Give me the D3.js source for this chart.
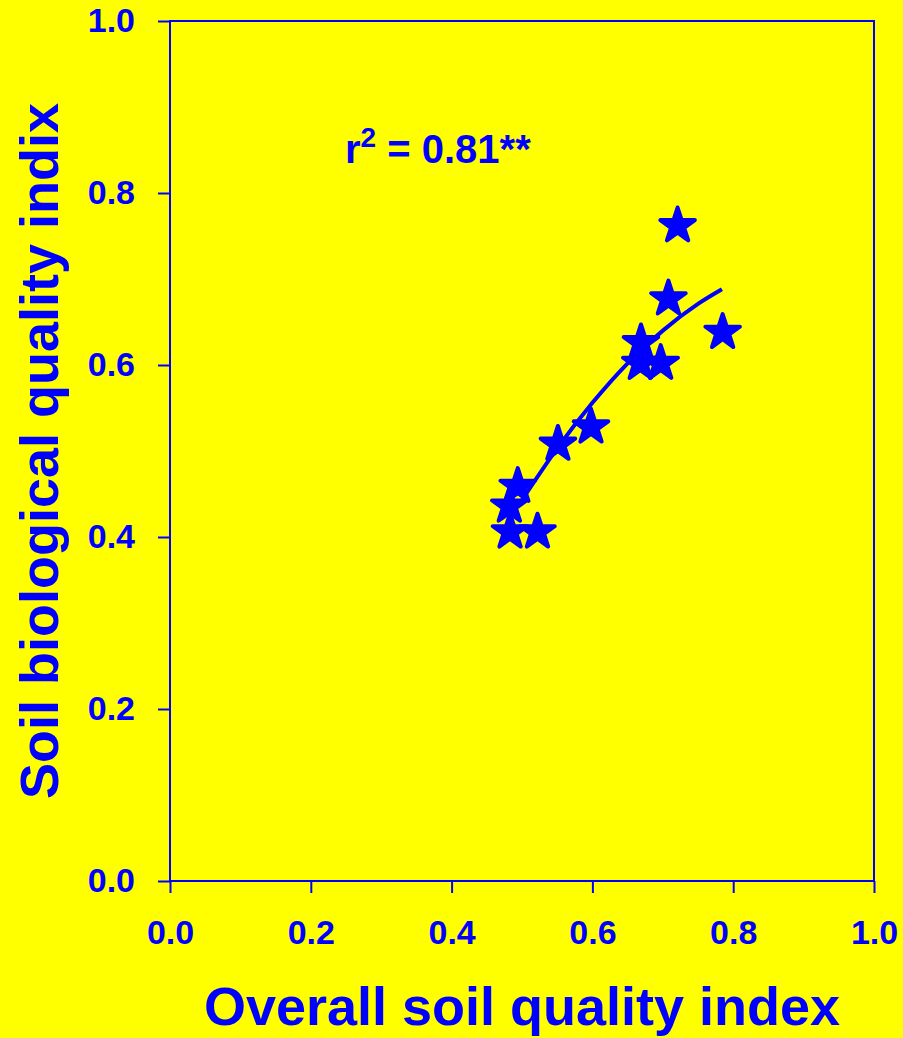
<!DOCTYPE html>
<html>
<head>
<meta charset="utf-8">
<script src="https://cdn.jsdelivr.net/npm/d3@7"></script>
<style>
  html, body { margin: 0; padding: 0; background: #ffff00; }
  svg { display: block; }
  text { font-family: "Liberation Sans", Arial, sans-serif; font-weight: bold; fill: #0000ff; }
</style>
</head>
<body>
<svg id="chart"></svg>
<script>
// observed points (overall SQI vs biological SQI)
const overallIndex = [0.721, 0.708, 0.785, 0.669, 0.668, 0.697, 0.598, 0.551, 0.494, 0.482, 0.483, 0.522];
const biologicalIndex = [0.762, 0.677, 0.638, 0.626, 0.602, 0.602, 0.528, 0.508, 0.459, 0.436, 0.406, 0.406];

// fitted curve
const fitX = [0.500, 0.550, 0.600, 0.650, 0.700, 0.750, 0.784];
const fitY = [0.443, 0.503, 0.556, 0.602, 0.640, 0.671, 0.688];

const tickValues = [0, 0.2, 0.4, 0.6, 0.8, 1.0];
const xTitle = "Overall soil quality index";
const yTitle = "Soil biological quality indix";
const annotation = "0.81**";

const width = 903;
const height = 1038;
const margin = { top: 21, right: 29, bottom: 157, left: 170 };
const blue = "#0000ff";

const svg = d3.select("#chart").attr("width", width).attr("height", height);

svg.append("rect")
  .attr("width", width)
  .attr("height", height)
  .attr("fill", "#ffff00");

// scales
const xScale = d3.scaleLinear()
  .domain([0, 1])
  .range([margin.left, width - margin.right]);
const yScale = d3.scaleLinear()
  .domain([0, 1])
  .range([height - margin.bottom, margin.top]);

// frame
svg.append("rect")
  .attr("x", xScale(0))
  .attr("y", yScale(1))
  .attr("width", xScale(1) - xScale(0))
  .attr("height", yScale(0) - yScale(1))
  .attr("fill", "none")
  .attr("stroke", blue)
  .attr("stroke-width", 2);

// axes
const xAxis = d3.axisBottom(xScale)
  .tickValues(tickValues)
  .tickFormat(d3.format(".1f"))
  .tickSize(12)
  .tickPadding(27);
const yAxis = d3.axisLeft(yScale)
  .tickValues(tickValues)
  .tickFormat(d3.format(".1f"))
  .tickSize(12)
  .tickPadding(23);

const gx = svg.append("g")
  .attr("transform", `translate(0, ${yScale(0)})`)
  .call(xAxis);
const gy = svg.append("g")
  .attr("transform", `translate(${xScale(0)}, 0)`)
  .call(yAxis);

[gx, gy].forEach(g => {
  g.select(".domain").remove();
  g.selectAll(".tick line").attr("stroke", blue).attr("stroke-width", 2);
  g.selectAll(".tick text")
    .attr("fill", blue)
    .style("font-size", "34px")
    .style("font-family", "'Liberation Sans', Arial, sans-serif")
    .style("font-weight", "bold");
});

// fitted curve
const line = d3.line()
  .x((d, i) => xScale(d))
  .y((d, i) => yScale(fitY[i]))
  .curve(d3.curveMonotoneX);

svg.append("path")
  .attr("d", line(fitX))
  .attr("fill", "none")
  .attr("stroke", blue)
  .attr("stroke-width", 4)
  .attr("stroke-linecap", "butt");

// star markers
const star = d3.symbol().type(d3.symbolStar).size(370);
svg.append("g")
  .selectAll("path")
  .data(overallIndex)
  .join("path")
  .attr("transform", (d, i) => `translate(${xScale(d)}, ${yScale(biologicalIndex[i])})`)
  .attr("d", star)
  .attr("fill", blue)
  .attr("stroke", blue)
  .attr("stroke-width", 4)
  .attr("stroke-linejoin", "round");

// r squared note
const note = svg.append("text")
  .attr("x", 345)
  .attr("y", 163)
  .style("font-size", "40px");
note.append("tspan").text("r");
note.append("tspan").attr("dy", -16).style("font-size", "28px").text("2");
note.append("tspan").attr("dy", 16).text(" = " + annotation);

// axis titles
svg.append("text")
  .attr("x", (xScale(0) + xScale(1)) / 2)
  .attr("y", 1025)
  .attr("text-anchor", "middle")
  .style("font-size", "54px")
  .text(xTitle);

svg.append("text")
  .attr("transform", `translate(58, ${(yScale(0) + yScale(1)) / 2}) rotate(-90)`)
  .attr("text-anchor", "middle")
  .style("font-size", "54px")
  .text(yTitle);
</script>
</body>
</html>
